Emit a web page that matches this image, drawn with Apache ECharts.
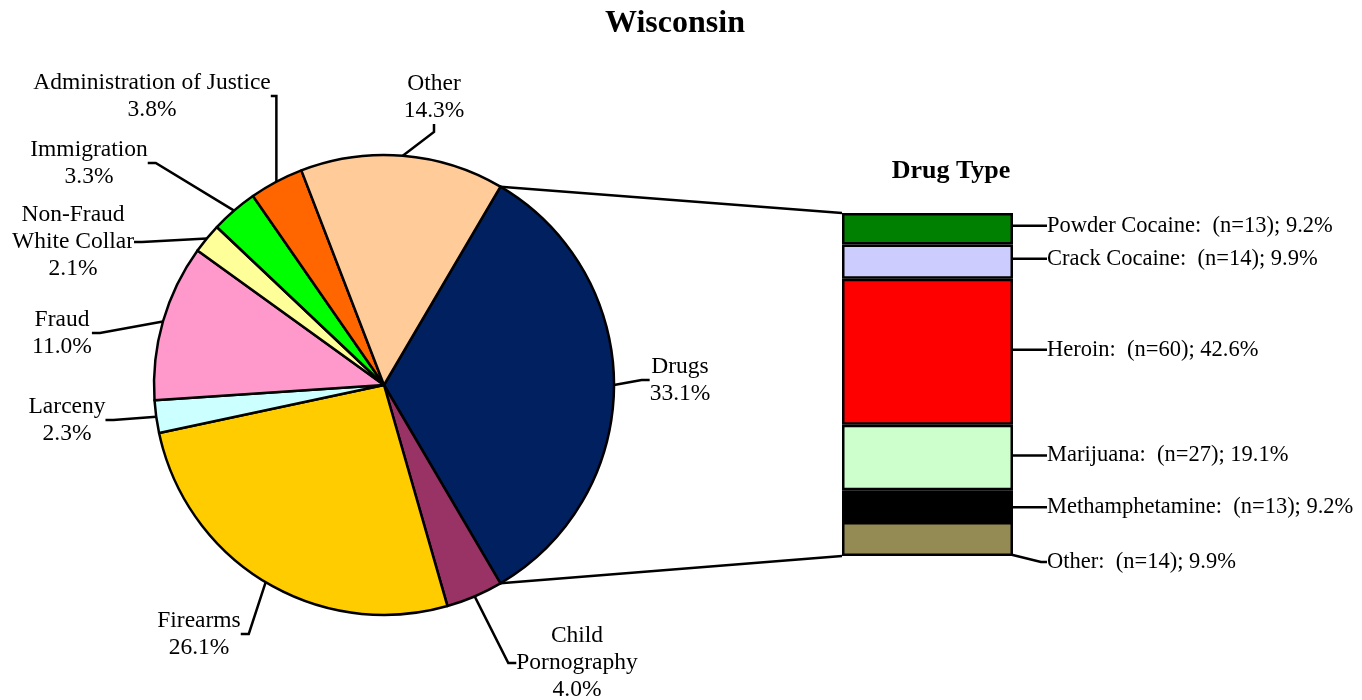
<!DOCTYPE html>
<html>
<head>
<meta charset="utf-8">
<script src="https://cdn.jsdelivr.net/npm/echarts@6/dist/echarts.min.js"></script>
<style>html,body{margin:0;padding:0;background:#fff}#c_chart{width:1362px;height:700px}</style>
</head>
<body>
<div id="c_chart"></div>
<script>
var offenses = ['Drugs', 'Child\nPornography', 'Firearms', 'Larceny', 'Fraud', 'Non-Fraud\nWhite Collar', 'Immigration', 'Administration of Justice', 'Other'];
var offensePct = [33.1, 4.0, 26.1, 2.3, 11.0, 2.1, 3.3, 3.8, 14.3];
var drugTypes = ['Powder Cocaine', 'Crack Cocaine', 'Heroin', 'Marijuana', 'Methamphetamine', 'Other'];
var drugCount = [13, 14, 60, 27, 13, 14];
var drugPct = [9.2, 9.9, 42.6, 19.1, 9.2, 9.9];

var pieColors = ['#002060', '#993366', '#FFCC00', '#CCFFFF', '#FF99CC', '#FFFF99', '#00FF00', '#FF6600', '#FFCC99'];
var drugColors = ['#008000', '#CCCCFF', '#FF0000', '#CCFFCC', '#000000', '#948A54'];

// pie geometry and label spots (relative to pie centre)
var cx = 384, cy = 385, rad = 230;
var startAng = offensePct[0] * 3.6 / 2;
var labelOff = [[296, -5], [193, 278], [-185, 249], [-317, 35], [-322, -52], [-311, -143], [-295, -222], [-232, -289], [50, -288]];
var drugLabelDy = [-3, -3, -2, -2, 1, 23];
var gridBox = {left: 842, top: 213, width: 171, height: 343};
var ff = 'Liberation Serif';

var dm = document.getElementById('c_chart');
var ch = echarts.init(dm);

var pieData = offenses.map(function (n, i) {
    return {name: n, value: offensePct[i], itemStyle: {color: pieColors[i]}};
});

var total = drugCount.reduce(function (a, b) { return a + b; }, 0);
var barSeries = [];
for (var i = drugTypes.length - 1; i >= 0; i--) {
    barSeries.push({
        name: drugTypes[i],
        type: 'bar',
        stack: 'drug',
        barWidth: '100%',
        data: [drugCount[i]],
        itemStyle: {color: drugColors[i], borderColor: '#000', borderWidth: 2.5},
        label: {
            show: true, position: 'right', distance: 5,
            formatter: drugTypes[i] + ':  (n=' + drugCount[i] + '); ' + drugPct[i].toFixed(1) + '%',
            fontFamily: ff, fontSize: 22.5, color: '#000'
        },
        labelLayout: {dx: 29, dy: drugLabelDy[i]},
        labelLine: {show: true, length2: 6, lineStyle: {color: '#000', width: 2.5}},
        emphasis: {disabled: true}
    });
}

var option = {
    animation: false,
    title: [
        {text: 'Wisconsin', left: 675, textAlign: 'center', top: 8, padding: 0,
         textStyle: {fontFamily: ff, fontSize: 32, fontWeight: 'bold', color: '#000'}},
        {text: 'Drug Type', left: 951, textAlign: 'center', top: 158, padding: 0,
         textStyle: {fontFamily: ff, fontSize: 26, fontWeight: 'bold', color: '#000'}}
    ],
    grid: gridBox,
    xAxis: {type: 'category', data: ['Drugs'], show: false},
    yAxis: {type: 'value', min: 0, max: total, show: false},
    series: [
        {
            type: 'pie',
            center: [cx, cy],
            radius: rad,
            startAngle: startAng,
            avoidLabelOverlap: false,
            data: pieData,
            itemStyle: {borderColor: '#000', borderWidth: 2.5},
            label: {
                show: true,
                formatter: function (p) { return p.name + '\n' + p.value.toFixed(1) + '%'; },
                fontFamily: ff, fontSize: 23.5, lineHeight: 27, color: '#000'
            },
            labelLine: {show: true, length: 15, length2: 8, smooth: false, lineStyle: {color: '#000', width: 2.5}},
            labelLayout: function (p) {
                var o = labelOff[p.dataIndex];
                return {x: cx + o[0], y: cy + o[1], align: 'center', verticalAlign: 'middle'};
            },
            emphasis: {disabled: true}
        }
    ].concat(barSeries)
};

ch.setOption(option);

// connector lines from the Drugs slice to the stacked bar
var a1 = startAng * Math.PI / 180;
var a2 = (startAng - offensePct[0] * 3.6) * Math.PI / 180;
var pTop = ch.convertToPixel({gridIndex: 0}, [0, total]);
var pBot = ch.convertToPixel({gridIndex: 0}, [0, 0]);
ch.setOption({
    graphic: [
        {type: 'line', shape: {x1: cx + rad * Math.cos(a1), y1: cy - rad * Math.sin(a1), x2: gridBox.left, y2: pTop[1]},
         style: {stroke: '#000', lineWidth: 2.5}, z: 0},
        {type: 'line', shape: {x1: cx + rad * Math.cos(a2), y1: cy - rad * Math.sin(a2), x2: gridBox.left, y2: pBot[1]},
         style: {stroke: '#000', lineWidth: 2.5}, z: 0}
    ]
});
window.onresize = function () { ch.resize(); };
</script>
</body>
</html>
